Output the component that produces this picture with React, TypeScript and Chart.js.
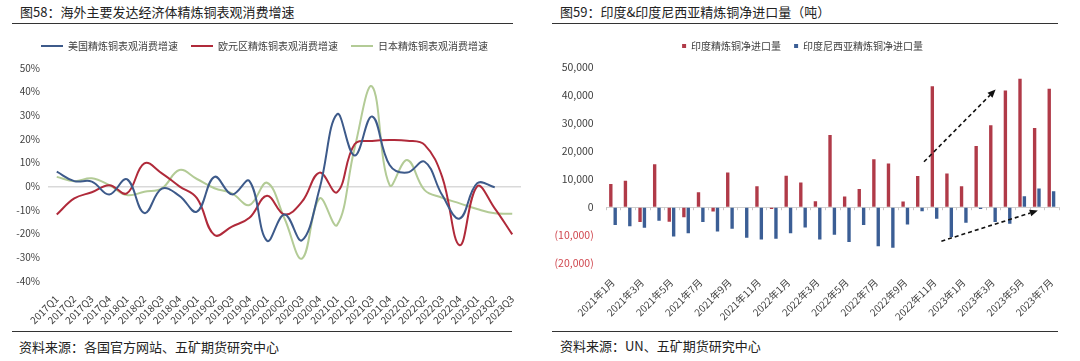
import React, { useEffect, useRef } from 'react';
import { Chart, registerables } from 'chart.js';

Chart.register(...registerables);

// ---------- Left chart data (图58) ----------
const quarters = [
  '2017Q1', '2017Q2', '2017Q3', '2017Q4', '2018Q1', '2018Q2', '2018Q3', '2018Q4',
  '2019Q1', '2019Q2', '2019Q3', '2019Q4', '2020Q1', '2020Q2', '2020Q3', '2020Q4',
  '2021Q1', '2021Q2', '2021Q3', '2021Q4', '2022Q1', '2022Q2', '2022Q3', '2022Q4',
  '2023Q1', '2023Q2', '2023Q3',
];
const usGrowth = [
  6.2, 2.2, 2.0, -3.4, 3.0, -11.3, -1.0, -4.0, -10.7, 4.0, -3.4, 2.2, -23.0, -11.9,
  -22.8, -1.0, 30.5, 13.0, 29.5, 9.0, 5.8, 10.4, -3.7, -13.6, 1.3, -0.4, null,
];
const euGrowth = [
  -11.9, -5.1, -2.5, 0.5, -3.0, 9.7, 5.5, 0.0, -5.0, -20.6, -17.0, -13.3, -4.0, -11.9,
  -6.5, 5.8, -2.5, 17.8, 19.2, 19.6, 19.3, 17.5, 4.0, -24.9, 0.0, -9.3, -20.3,
];
const jpGrowth = [
  4.0, 2.2, 3.4, 0.5, -3.7, -2.3, -0.9, 6.9, 3.1, -0.8, -3.0, -7.9, 1.5, -13.6,
  -30.5, -5.1, -16.4, 16.1, 42.2, 0.5, 11.1, -1.6, -4.8, -7.2, -9.6, -11.4, -11.6,
];
const leftSeriesNames = ['美国精炼铜表观消费增速', '欧元区精炼铜表观消费增速', '日本精炼铜表观消费增速'];
const leftYTicks = { min: -40, max: 50, step: 10 };

// ---------- Right chart data (图59) ----------
const months = [
  '2021年1月', '2021年2月', '2021年3月', '2021年4月', '2021年5月', '2021年6月', '2021年7月',
  '2021年8月', '2021年9月', '2021年10月', '2021年11月', '2021年12月', '2022年1月', '2022年2月',
  '2022年3月', '2022年4月', '2022年5月', '2022年6月', '2022年7月', '2022年8月', '2022年9月',
  '2022年10月', '2022年11月', '2022年12月', '2023年1月', '2023年2月', '2023年3月', '2023年4月',
  '2023年5月', '2023年6月', '2023年7月',
];
const indiaNetImport = [
  8300, 9400, -5300, 15350, -5200, -3550, 5300, -1550, 12400, 0, 7450, -600, 11200, 8850,
  2100, 25750, 3800, 6500, 17100, 15600, 2000, 11100, 43100, 12050, 7450, 21850, 29200,
  41600, 45850, 28250, 42200,
];
const indonesiaNetImport = [
  -6300, -6750, -7350, -4850, -10400, -9250, -5300, -8650, -7700, -10900, -11500, -11250,
  -9250, -7200, -11500, -9800, -12400, -6300, -13950, -14450, -6150, -1450, -4150, -10650,
  -5550, -600, -5300, -5900, 3900, 6700, 5650,
];
const rightSeriesNames = ['印度精炼铜净进口量', '印度尼西亚精炼铜净进口量'];
const rightYTicks = { min: -20000, max: 50000, step: 10000 };
// trend arrows in data coordinates: [categoryIndex, value]
const arrowFrom = [[21.28, 16200], [22.47, -12100]];
const arrowTo = [[26.18, 41950], [29.07, -1200]];

const FONT = '"Noto Sans CJK SC", "Noto Sans", "Liberation Sans", sans-serif';
const TEXT = '#404040';

function legendSpacer(extra: number) {
  return {
    id: 'legendSpacer',
    beforeInit(chart: any) {
      const orig = chart.legend.fit;
      chart.legend.fit = function fit() {
        orig.call(this);
        this.height += extra;
      };
    },
  };
}

const arrowPlugin = {
  id: 'trendArrows',
  afterDatasetsDraw(chart: any) {
    const { ctx, scales } = chart;
    const xs = scales.x;
    const ys = scales.y;
    ctx.save();
    // small tick marks on the zero line at category boundaries
    const y0 = ys.getPixelForValue(0);
    ctx.strokeStyle = '#c8c8c8';
    ctx.lineWidth = 1;
    for (let i = 0; i <= months.length; i++) {
      const x = Math.round(xs.getPixelForValue(i - 0.5)) + 0.5;
      ctx.beginPath();
      ctx.moveTo(x, y0);
      ctx.lineTo(x, y0 + 3);
      ctx.stroke();
    }
    ctx.strokeStyle = '#111';
    ctx.fillStyle = '#111';
    ctx.lineWidth = 1.6;
    for (let k = 0; k < arrowFrom.length; k++) {
      const x1 = xs.getPixelForValue(arrowFrom[k][0]);
      const y1 = ys.getPixelForValue(arrowFrom[k][1]);
      const x2 = xs.getPixelForValue(arrowTo[k][0]);
      const y2 = ys.getPixelForValue(arrowTo[k][1]);
      const ang = Math.atan2(y2 - y1, x2 - x1);
      const head = 8;
      const bx = x2 - head * Math.cos(ang);
      const by = y2 - head * Math.sin(ang);
      ctx.setLineDash([4, 3]);
      ctx.beginPath();
      ctx.moveTo(x1, y1);
      ctx.lineTo(bx, by);
      ctx.stroke();
      ctx.setLineDash([]);
      ctx.beginPath();
      ctx.moveTo(x2, y2);
      ctx.lineTo(bx + 3.5 * Math.sin(ang), by - 3.5 * Math.cos(ang));
      ctx.lineTo(bx - 3.5 * Math.sin(ang), by + 3.5 * Math.cos(ang));
      ctx.closePath();
      ctx.fill();
    }
    ctx.restore();
  },
};

function LeftChart() {
  const ref = useRef<HTMLCanvasElement>(null);
  useEffect(() => {
    const colors = ['#3d5a8a', '#b02a3a', '#b3cb96'];
    const series = [usGrowth, euGrowth, jpGrowth];
    const chart = new Chart(ref.current as HTMLCanvasElement, {
      type: 'line',
      data: {
        labels: quarters,
        datasets: series.map((d, i) => ({
          label: leftSeriesNames[i],
          data: d,
          borderColor: colors[i],
          backgroundColor: colors[i],
          borderWidth: 2,
          pointRadius: 0,
          tension: 0.4,
          fill: false,
        })),
      },
      options: {
        animation: false,
        responsive: false,
        maintainAspectRatio: false,
        layout: { padding: { left: 8, right: 14, top: 0, bottom: 0 } },
        plugins: {
          tooltip: { enabled: false },
          legend: {
            labels: {
              boxWidth: 22,
              boxHeight: 2,
              padding: 13,
              color: TEXT,
              font: { size: 10, family: FONT },
              generateLabels: (c: any) =>
                Chart.defaults.plugins.legend.labels
                  .generateLabels(c)
                  .map((l: any) => ({ ...l, lineWidth: 0 })),
            },
          },
        },
        scales: {
          x: {
            offset: true,
            grid: { display: false },
            border: { display: false },
            ticks: {
              autoSkip: false,
              maxRotation: 45,
              minRotation: 45,
              padding: 4,
              color: TEXT,
              font: { size: 10, family: FONT },
            },
            afterFit: (s: any) => {
              s.height = 49;
            },
          },
          y: {
            min: leftYTicks.min,
            max: leftYTicks.max,
            ticks: {
              stepSize: leftYTicks.step,
              padding: 8,
              color: TEXT,
              font: { size: 10, family: FONT },
              callback: (v: any) => `${v}%`,
            },
            grid: {
              drawTicks: false,
              lineWidth: 1.5,
              color: (c: any) => (c.tick && c.tick.value === 0 ? '#d9d9d9' : 'rgba(0,0,0,0)'),
            },
            border: { display: false },
            afterFit: (s: any) => {
              s.width = 40;
            },
          },
        },
      } as any,
      plugins: [legendSpacer(7)],
    });
    return () => chart.destroy();
  }, []);
  return <canvas ref={ref} width={535} height={302} style={{ position: 'absolute', left: 0, top: 28, width: 535, height: 302 }} />;
}

function RightChart() {
  const ref = useRef<HTMLCanvasElement>(null);
  useEffect(() => {
    const chart = new Chart(ref.current as HTMLCanvasElement, {
      type: 'bar',
      data: {
        labels: months,
        datasets: [
          {
            label: rightSeriesNames[0],
            data: indiaNetImport,
            backgroundColor: '#b03a48',
            categoryPercentage: 0.6,
            barPercentage: 0.77,
          },
          {
            label: rightSeriesNames[1],
            data: indonesiaNetImport,
            backgroundColor: '#3b5e95',
            categoryPercentage: 0.6,
            barPercentage: 0.77,
          },
        ],
      },
      options: {
        animation: false,
        responsive: false,
        maintainAspectRatio: false,
        layout: { padding: { left: 5.7, right: 5.5, top: 0, bottom: 0 } },
        plugins: {
          tooltip: { enabled: false },
          legend: {
            labels: {
              boxWidth: 4,
              boxHeight: 4,
              padding: 13,
              color: TEXT,
              font: { size: 10, family: FONT },
            },
          },
        },
        scales: {
          x: {
            grid: { display: false },
            border: { display: false },
            ticks: {
              autoSkip: false,
              maxRotation: 45,
              minRotation: 45,
              padding: 5,
              color: TEXT,
              font: { size: 10, family: FONT },
              callback: (_v: any, i: number) => (i % 2 === 0 ? months[i] : ''),
            },
            afterFit: (s: any) => {
              s.height = 66.7;
            },
          },
          y: {
            min: rightYTicks.min,
            max: rightYTicks.max,
            ticks: {
              stepSize: rightYTicks.step,
              padding: 12,
              font: { size: 10.5, family: FONT },
              color: (c: any) => (c.tick && c.tick.value < 0 ? '#d0474f' : TEXT),
              callback: (v: any) => {
                const n = Number(v);
                const s = Math.abs(n).toLocaleString('en-US');
                return n < 0 ? `(${s})` : s;
              },
            },
            grid: {
              drawTicks: false,
              lineWidth: 1,
              color: (c: any) => (c.tick && c.tick.value === 0 ? '#d0d0d0' : 'rgba(0,0,0,0)'),
            },
            border: { display: false },
            afterFit: (s: any) => {
              s.width = 60;
            },
          },
        },
      } as any,
      plugins: [legendSpacer(6), arrowPlugin],
    });
    return () => chart.destroy();
  }, []);
  return <canvas ref={ref} width={525} height={302} style={{ position: 'absolute', left: 540, top: 28, width: 525, height: 302 }} />;
}

const ruleStyle = (left: number, top: number, width: number): React.CSSProperties => ({
  position: 'absolute',
  left,
  top,
  width,
  height: 1,
  background: '#333',
});

export default function App() {
  return (
    <div
      style={{
        position: 'fixed',
        left: 0,
        top: 0,
        width: 1080,
        height: 361,
        background: '#fff',
        fontFamily: FONT,
        overflow: 'hidden',
      }}
    >
      <div style={{ position: 'absolute', left: 20, top: 3, fontSize: 13, lineHeight: '18px', color: '#222', whiteSpace: 'nowrap' }}>
        图58：海外主要发达经济体精炼铜表观消费增速
      </div>
      <div style={ruleStyle(12, 23, 501)} />
      <LeftChart />
      <div style={ruleStyle(12, 331, 500)} />
      <div style={{ position: 'absolute', left: 19, top: 338, fontSize: 13, lineHeight: '18px', color: '#222', whiteSpace: 'nowrap' }}>
        资料来源：各国官方网站、五矿期货研究中心
      </div>

      <div style={{ position: 'absolute', left: 560, top: 3, fontSize: 13, lineHeight: '18px', color: '#222', whiteSpace: 'nowrap' }}>
        图59：印度&amp;印度尼西亚精炼铜净进口量（吨）
      </div>
      <div style={ruleStyle(552, 23, 506)} />
      <RightChart />
      <div style={ruleStyle(552, 331, 506)} />
      <div style={{ position: 'absolute', left: 560, top: 337, fontSize: 13, lineHeight: '18px', color: '#222', whiteSpace: 'nowrap' }}>
        资料来源：UN、五矿期货研究中心
      </div>
    </div>
  );
}
